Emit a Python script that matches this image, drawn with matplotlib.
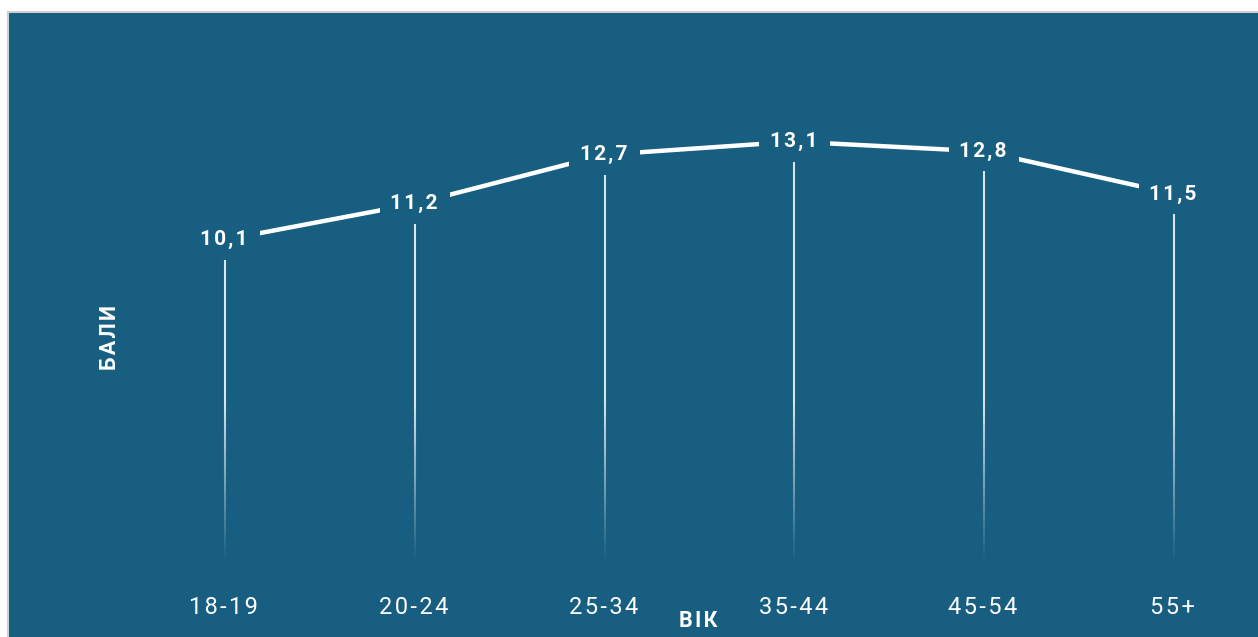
import matplotlib
matplotlib.use("Agg")
import matplotlib.pyplot as plt
from matplotlib.patches import Rectangle
from matplotlib.collections import LineCollection
import numpy as np

categories = ["18-19", "20-24", "25-34", "35-44", "45-54", "55+"]
values = [10.1, 11.2, 12.7, 13.1, 12.8, 11.5]
value_labels = ["10,1", "11,2", "12,7", "13,1", "12,8", "11,5"]
x_title = "ВІК"
y_title = "БАЛИ"

BG = "#175e80"
FAM = ["Roboto", "DejaVu Sans"]
HS = "\u200a"


def spaced(s):
    return HS.join(s) + HS


W, H = 1258, 637
fig = plt.figure(figsize=(W / 100, H / 100), dpi=100)
fig.patch.set_facecolor("white")
fig.patches.append(Rectangle((7.5 / W, -0.02), 1, 1.02 - 11.5 / H, transform=fig.transFigure,
                             facecolor=BG, edgecolor="#cfcfcf", linewidth=1.5, zorder=-5))

ppu = 32.7
y0_px = 570
x0_px, step = 225, 189.8
xl = (-0.3, 5.3)
yl = (0, 14)
left = (x0_px + xl[0] * step) / W
width = (xl[1] - xl[0]) * step / W
bottom = (H - y0_px) / H
height = (yl[1] - yl[0]) * ppu / H
ax = fig.add_axes([left, bottom, width, height])
ax.set_zorder(2)
ax.set_xlim(*xl)
ax.set_ylim(*yl)
ax.patch.set_alpha(0)
for s in ax.spines.values():
    s.set_visible(False)

xs = np.arange(len(categories))

# fading vertical lines
segs, cols = [], []
for x, v in zip(xs, values):
    top = v - 0.55
    n = 80
    ys = np.linspace(0.25, top, n + 1)
    for i in range(n):
        mid = (ys[i] + ys[i + 1]) / 2
        a = np.clip((mid - 0.25) / 5.0, 0, 1) * 0.85
        segs.append([(x, ys[i]), (x, ys[i + 1])])
        cols.append((1, 1, 1, a))
ax.add_collection(LineCollection(segs, colors=cols, linewidths=1.5, capstyle="butt"))

ax.plot(xs, values, color="white", lw=3.2, solid_capstyle="butt", zorder=3)
for x, v, t in zip(xs, values, value_labels):
    ax.text(x, v, spaced(t), ha="center", va="center", color="white", fontsize=15,
            fontweight="bold", family=FAM, zorder=4,
            bbox=dict(boxstyle="square,pad=0.5", facecolor=BG, edgecolor="none"))

ax.set_xticks(xs)
ax.set_xticklabels([spaced(c) for c in categories], family=FAM, fontsize=17, color="white")
ax.tick_params(axis="x", length=0, pad=19)
ax.set_yticks([])
fig.text((x0_px + 2.5 * step) / W, 1 - 621 / H, spaced(x_title), ha="center", va="center",
         color="white", fontsize=15.5, fontweight="bold", family=FAM)
fig.text(110 / W, 1 - 336 / H, spaced(y_title), rotation=90, ha="center", va="center",
         color="white", fontsize=15.5, fontweight="bold", family=FAM)

fig.savefig("out.png", dpi=100, facecolor=fig.get_facecolor())
